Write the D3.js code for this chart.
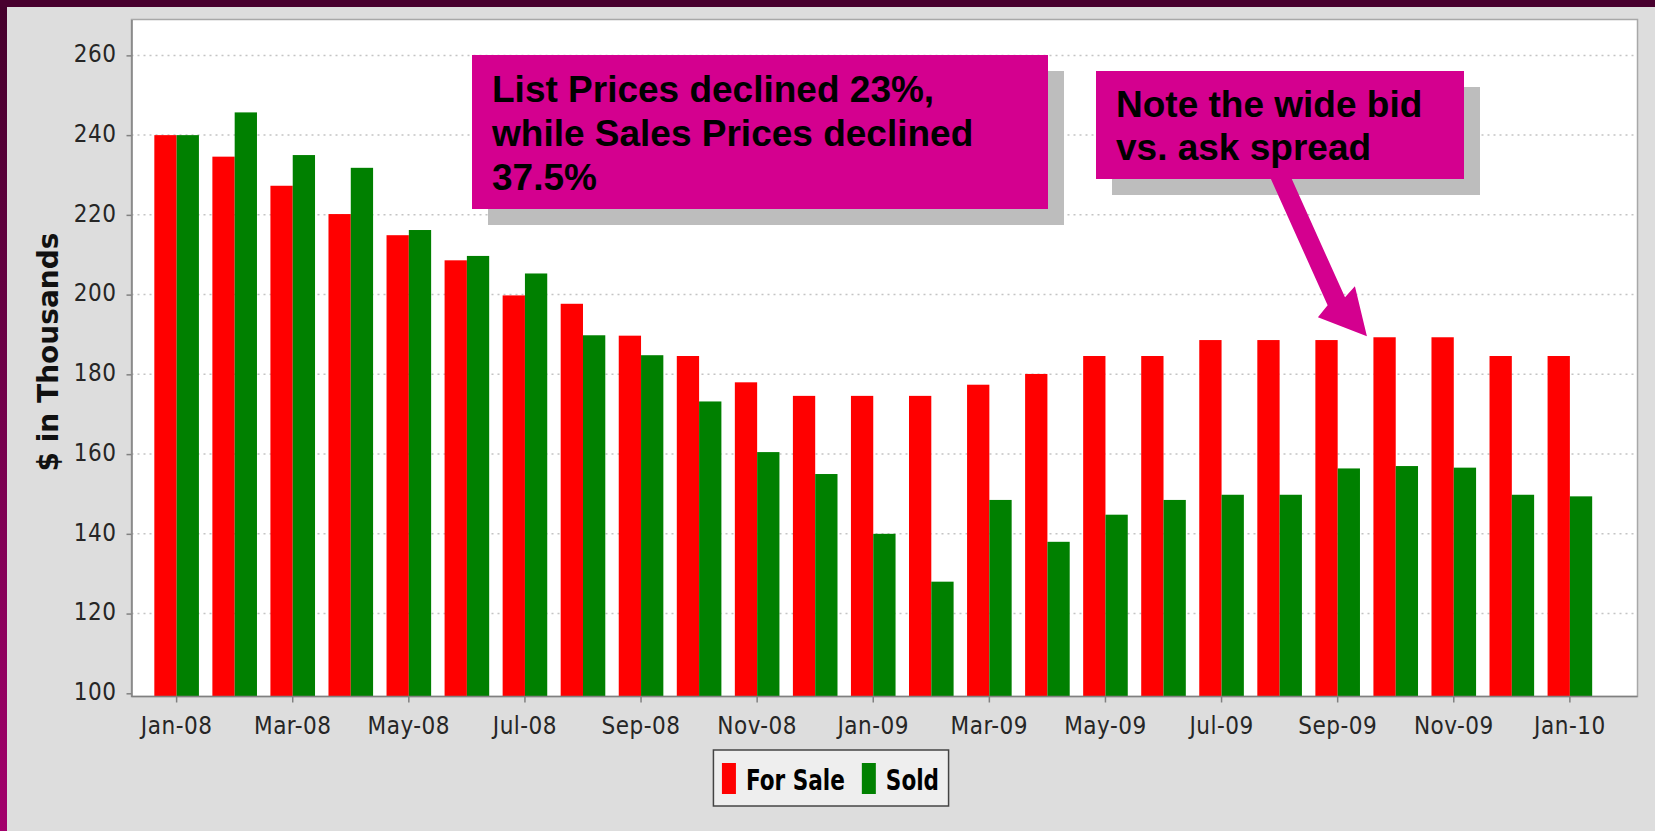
<!DOCTYPE html>
<html lang="en">
<head>
<meta charset="UTF-8">
<title>For Sale vs Sold</title>
<script src="https://d3js.org/d3.v7.min.js"></script>
<style>
    body {
        margin: 0;
        background: #4a0030;
        overflow: hidden;
    }
    .tick text {
        font-family: "DejaVu Sans Condensed", "DejaVu Sans", sans-serif;
        font-stretch: condensed;
        font-size: 24px;
        letter-spacing: 0.5px;
        fill: #262626;
    }
    .note {
        font-family: "Liberation Sans", Arial, sans-serif;
        font-weight: bold;
        font-size: 37px;
        fill: #000;
    }
</style>
</head>
<body>
<script>
    var months = ["Jan-08", "Feb-08", "Mar-08", "Apr-08", "May-08", "Jun-08", "Jul-08", "Aug-08",
        "Sep-08", "Oct-08", "Nov-08", "Dec-08", "Jan-09", "Feb-09", "Mar-09", "Apr-09", "May-09",
        "Jun-09", "Jul-09", "Aug-09", "Sep-09", "Oct-09", "Nov-09", "Dec-09", "Jan-10"];
    var forSale = [240, 234.6, 227.3, 220.2, 214.9, 208.6, 199.8, 197.7, 189.7, 184.6, 178, 174.6,
        174.6, 174.6, 177.4, 180.1, 184.6, 184.6, 188.6, 188.6, 188.6, 189.3, 189.3, 184.6, 184.6];
    var sold = [240, 245.7, 235, 231.8, 216.2, 209.7, 205.3, 189.8, 184.8, 173.2, 160.5, 155,
        140, 128, 148.5, 138, 144.8, 148.5, 149.8, 149.8, 156.4, 157, 156.6, 149.8, 149.4];
    var seriesNames = ["For Sale", "Sold"];
    var seriesColours = ["#ff0000", "#008000"];
    var yTicks = [100, 120, 140, 160, 180, 200, 220, 240, 260];
    var xTicks = ["Jan-08", "Mar-08", "May-08", "Jul-08", "Sep-08", "Nov-08", "Jan-09",
        "Mar-09", "May-09", "Jul-09", "Sep-09", "Nov-09", "Jan-10"];
    var yLabel = "$ in Thousands";
    var note1 = ["List Prices declined 23%,", "while Sales Prices declined", "37.5%"];
    var note2 = ["Note the wide bid", "vs. ask spread"];

    var width = 1655;
    var height = 831;
    var magenta = "#d4008f";

    var plot = { left: 131.5, right: 1637.5, top: 19.5, bottom: 696.5 };

    var svg = d3.select("body")
        .append("svg")
        .attr("width", width)
        .attr("height", height);

    // frame: dark top band, gradient strip on the left, grey panel
    var grad = svg.append("defs").append("linearGradient")
        .attr("id", "edge")
        .attr("x1", 0).attr("y1", 0).attr("x2", 0).attr("y2", 1);
    grad.append("stop").attr("offset", "0%").attr("stop-color", "#45002c");
    grad.append("stop").attr("offset", "100%").attr("stop-color", "#a3006c");

    svg.append("rect").attr("width", width).attr("height", height).attr("fill", "#48002e");
    svg.append("rect").attr("x", 0).attr("y", 7).attr("width", 7).attr("height", height - 7)
        .attr("fill", "url(#edge)");
    svg.append("rect").attr("x", 7).attr("y", 7).attr("width", width - 7).attr("height", height - 7)
        .attr("fill", "#dddddd");

    // scales
    var x = d3.scaleBand()
        .domain(months)
        .range([147.6, 1598.9])
        .paddingInner(0.2317)
        .paddingOuter(0.1158);

    var xInner = d3.scaleBand()
        .domain(seriesNames)
        .range([0, x.bandwidth()]);

    var y = d3.scaleLinear()
        .domain([99.2, 269])
        .range([plot.bottom, plot.top]);

    // plot background
    svg.append("rect")
        .attr("x", plot.left).attr("y", plot.top)
        .attr("width", plot.right - plot.left).attr("height", plot.bottom - plot.top)
        .attr("fill", "#ffffff")
        .attr("stroke", "#a8a8a8")
        .attr("stroke-width", 1.5);

    // gridlines
    svg.append("g")
        .selectAll("line")
        .data(yTicks.slice(1))
        .enter()
        .append("line")
        .attr("x1", plot.left).attr("x2", plot.right - 1)
        .attr("y1", function(d) { return y(d); })
        .attr("y2", function(d) { return y(d); })
        .attr("stroke", "#c4c4c4")
        .attr("stroke-width", 1.5)
        .attr("stroke-dasharray", "2,4");

    // bars
    var rows = months.map(function(m, i) {
        return { month: m, values: [forSale[i], sold[i]] };
    });

    svg.append("g")
        .selectAll("g")
        .data(rows)
        .enter()
        .append("g")
        .attr("transform", function(d) { return "translate(" + x(d.month) + ",0)"; })
        .selectAll("rect")
        .data(function(d) { return d.values; })
        .enter()
        .append("rect")
        .attr("x", function(d, i) { return xInner(seriesNames[i]); })
        .attr("y", function(d) { return y(d); })
        .attr("width", xInner.bandwidth())
        .attr("height", function(d) { return plot.bottom - y(d); })
        .attr("fill", function(d, i) { return seriesColours[i]; });

    // axes
    var yAxis = svg.append("g")
        .attr("transform", "translate(" + plot.left + ",0)")
        .call(d3.axisLeft(y).tickValues(yTicks).tickSize(5).tickSizeOuter(0).tickPadding(10));
    yAxis.select(".domain").attr("stroke", "#808080").attr("stroke-width", 1.5);
    yAxis.selectAll(".tick line").attr("stroke", "#808080").attr("stroke-width", 1.5);
    yAxis.selectAll(".tick text").attr("dy", "0.26em");

    var xAxis = svg.append("g")
        .attr("transform", "translate(0," + plot.bottom + ")")
        .call(d3.axisBottom(x).tickValues(xTicks).tickSize(6).tickSizeOuter(0).tickPadding(14));
    xAxis.select(".domain").remove();
    xAxis.selectAll(".tick line").attr("stroke", "#808080").attr("stroke-width", 1.5);
    xAxis.selectAll(".tick text").attr("dy", "0.71em");

    svg.append("line")
        .attr("x1", plot.left).attr("x2", plot.right)
        .attr("y1", plot.bottom).attr("y2", plot.bottom)
        .attr("stroke", "#808080")
        .attr("stroke-width", 1.5);

    // y axis title
    svg.append("text")
        .attr("transform", "translate(58," + 352 + ") rotate(-90)")
        .attr("text-anchor", "middle")
        .style("font-family", "'DejaVu Sans', sans-serif")
        .style("font-weight", "bold")
        .style("font-size", "28px")
        .style("fill", "#111")
        .text(yLabel);

    // legend
    var legend = svg.append("g");
    var legendBox = legend.append("rect")
        .attr("fill", "#eeeeee")
        .attr("stroke", "#444")
        .attr("stroke-width", 1.5);
    var lx = 0;
    var legendItems = [];
    seriesNames.forEach(function(name, i) {
        var sw = legend.append("rect")
            .attr("x", lx).attr("y", 763)
            .attr("width", 14).attr("height", 31)
            .attr("fill", seriesColours[i]);
        lx += 24;
        var t = legend.append("text")
            .attr("transform", "translate(" + lx + ",790) scale(1,1.2)")
            .style("font-family", "'DejaVu Sans Condensed', 'DejaVu Sans', sans-serif")
            .style("font-stretch", "condensed")
            .style("font-weight", "bold")
            .style("font-size", "24px")
            .style("fill", "#000")
            .text(name);
        lx += t.node().getComputedTextLength() + 17;
    });
    var legendWidth = lx - 17 + 18;
    legend.attr("transform", "translate(" + (831 - legendWidth / 2 + 8.5) + ",0)");
    legendBox.attr("x", -8.5).attr("y", 750).attr("width", legendWidth).attr("height", 56);

    // annotation boxes with drop shadows
    function noteBox(bx, by, bw, bh, lines, baseline, lineGap) {
        svg.append("rect")
            .attr("x", bx + 16).attr("y", by + 16)
            .attr("width", bw).attr("height", bh)
            .attr("fill", "#bdbdbd");
        svg.append("rect")
            .attr("x", bx).attr("y", by)
            .attr("width", bw).attr("height", bh)
            .attr("fill", magenta);
        svg.append("g")
            .selectAll("text")
            .data(lines)
            .enter()
            .append("text")
            .attr("class", "note")
            .attr("x", bx + 20)
            .attr("y", function(d, i) { return by + baseline + i * lineGap; })
            .text(function(d) { return d; });
    }

    noteBox(472, 55, 576, 154, note1, 47, 44);
    noteBox(1096, 71, 368, 108, note2, 46, 43);

    // arrow pointing at the Oct-09 list price
    var tipX = x("Oct-09") - 6.5;
    var tipY = y(forSale[months.indexOf("Oct-09")]) - 1;
    var arrow = [[-97.8, -161.1], [-39.3, -31.1], [-49, -19], [0, 0], [-12, -50],
        [-21.9, -38.9], [-80.4, -168.9]];
    svg.append("polygon")
        .attr("points", arrow.map(function(p) { return (tipX + p[0]) + "," + (tipY + p[1]); }).join(" "))
        .attr("fill", magenta);
</script>
</body>
</html>
